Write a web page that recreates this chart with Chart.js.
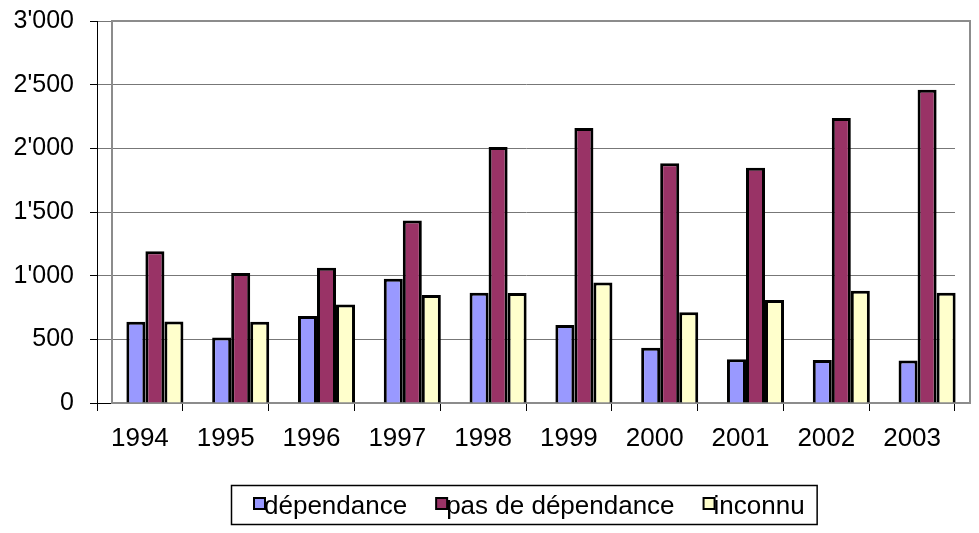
<!DOCTYPE html>
<html>
<head>
<meta charset="utf-8">
<script src="https://cdn.jsdelivr.net/npm/chart.js@4/dist/chart.umd.min.js"></script>
<style>
html,body{margin:0;padding:0;background:#fff;}
#wrap{width:979px;height:533px;}
</style>
</head>
<body>
<div id="wrap"><canvas id="c" width="979" height="533"></canvas></div>
<script>
// ---- data ----
const years = ['1994','1995','1996','1997','1998','1999','2000','2001','2002','2003'];
const dependance = [638, 515, 683, 976, 866, 612, 434, 343, 338, 333];
const pasDeDependance = [1191, 1021, 1062, 1434, 2010, 2160, 1882, 1848, 2238, 2461];
const inconnu = [641, 638, 774, 848, 864, 947, 712, 809, 882, 866];
const seriesNames = ['dépendance', 'pas de dépendance', 'inconnu'];
const yTicks = [0, 500, 1000, 1500, 2000, 2500, 3000];

const FONT = '"Liberation Sans", Arial, sans-serif';
const SHIFT = 15; // depth offset of the plot wall

function fmt(v){
  return String(v).replace(/\B(?=(\d{3})+(?!\d))/g, "'");
}

const wallPlugin = {
  id: 'wall',
  beforeDatasetsDraw(chart){
    const {ctx, chartArea:a} = chart;
    ctx.save();
    ctx.strokeStyle = '#8c8c8c';
    ctx.lineWidth = 2;
    ctx.strokeRect(a.left + SHIFT, a.top, a.right - a.left, a.bottom - a.top);
    ctx.restore();
    ctx.save();
    ctx.translate(SHIFT, 0);
  },
  afterDatasetsDraw(chart){
    chart.ctx.restore();
  }
};

const legendPlugin = {
  id: 'boxLegend',
  afterDraw(chart){
    const ctx = chart.ctx;
    ctx.save();
    ctx.font = '26px ' + FONT;
    ctx.textBaseline = 'alphabetic';
    const left = 231, top = 485, bottom = 524;
    let x = 254;
    const items = chart.data.datasets;
    const sq = 11;
    const boxes = [];
    items.forEach((ds, i) => {
      const w = ctx.measureText(ds.label).width;
      boxes.push({x, w, ds});
      x += sq - 1 + w + 29;
    });
    const right = x - 29 + 12;
    ctx.fillStyle = '#fff';
    ctx.fillRect(left, top, right - left, bottom - top);
    ctx.strokeStyle = '#000';
    ctx.lineWidth = 1.5;
    ctx.strokeRect(left + 0.5, top + 0.5, right - left, bottom - top);
    boxes.forEach(b => {
      ctx.fillStyle = b.ds.backgroundColor;
      ctx.fillRect(b.x, 498, sq, sq);
      ctx.strokeStyle = '#000';
      ctx.lineWidth = 2;
      ctx.strokeRect(b.x, 498, sq, sq);
      ctx.fillStyle = '#000';
      ctx.fillText(b.ds.label, b.x + sq - 1, 514);
    });
    ctx.restore();
  }
};

new Chart(document.getElementById('c'), {
  type: 'bar',
  data: {
    labels: years,
    datasets: [
      {label: seriesNames[0], data: dependance, backgroundColor: '#9999FF'},
      {label: seriesNames[1], data: pasDeDependance, backgroundColor: '#993366'},
      {label: seriesNames[2], data: inconnu, backgroundColor: '#FFFFCC'}
    ]
  },
  options: {
    responsive: false,
    devicePixelRatio: 1,
    animation: false,
    layout: {padding: {top: 21, right: 24, bottom: 0, left: 0}},
    datasets: {
      bar: {
        borderColor: '#000',
        borderWidth: 3,
        categoryPercentage: 0.665,
        barPercentage: 1.0,
        clip: false
      }
    },
    plugins: {
      legend: {display: false},
      tooltip: {enabled: false}
    },
    scales: {
      x: {
        offset: true,
        afterFit(s){ s.height = 130; s.paddingLeft = 0; s.paddingRight = 0; },
        grid: {display: true, drawOnChartArea: false, tickLength: 8, color: '#000', offset: true},
        border: {display: true, color: '#000', width: 1},
        ticks: {color: '#000', font: {family: FONT, size: 26}, padding: 12, maxRotation: 0}
      },
      y: {
        min: 0, max: 3000,
        afterFit(s){ s.width = 97; s.paddingTop = 0; s.paddingBottom = 0; },
        afterBuildTicks(s){ s.ticks = yTicks.map(v => ({value: v})); },
        grid: {color: '#777', tickColor: '#000', tickLength: 7, lineWidth: 1},
        border: {display: true, color: '#000', width: 1},
        ticks: {color: '#000', font: {family: FONT, size: 25}, padding: 16, callback: v => fmt(v)}
      }
    }
  },
  plugins: [wallPlugin, legendPlugin]
});
</script>
</body>
</html>
